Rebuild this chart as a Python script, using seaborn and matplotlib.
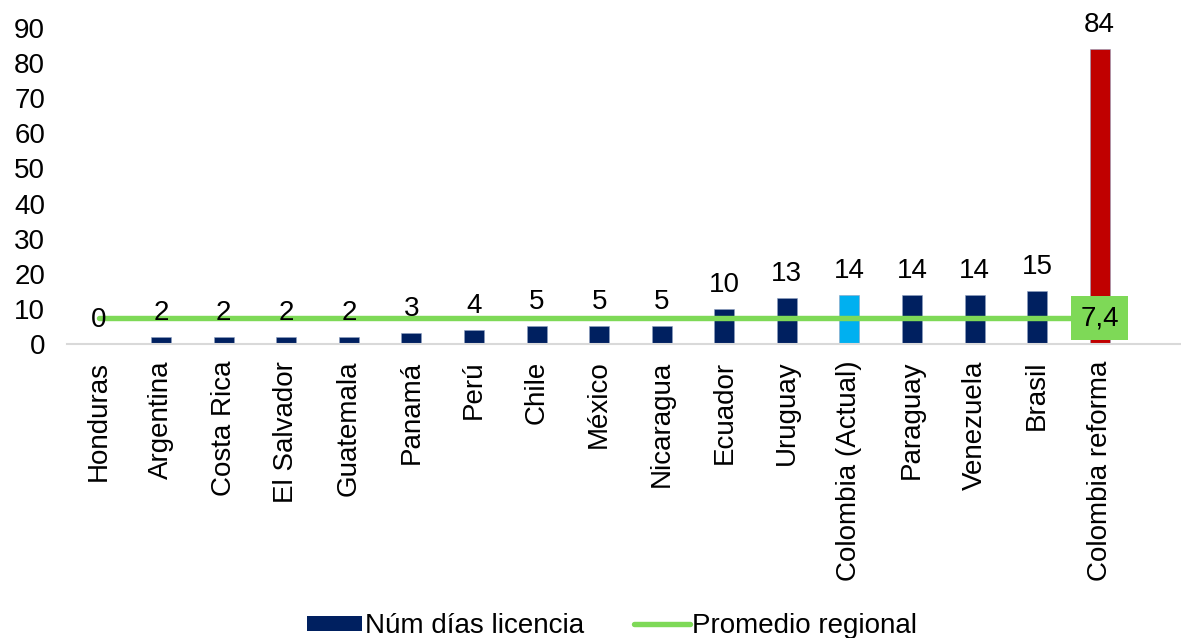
import matplotlib
matplotlib.use("Agg")
import matplotlib.pyplot as plt
from matplotlib.patches import Patch
from matplotlib.lines import Line2D
import seaborn as sns
import pandas as pd

# Days of paternity leave by country
paises = ["Honduras", "Argentina", "Costa Rica", "El Salvador", "Guatemala",
          "Panamá", "Perú", "Chile", "México", "Nicaragua", "Ecuador",
          "Uruguay", "Colombia (Actual)", "Paraguay", "Venezuela", "Brasil",
          "Colombia reforma"]
dias = [0, 2, 2, 2, 2, 3, 4, 5, 5, 5, 10, 13, 14, 14, 14, 15, 84]
promedio = 7.4
promedio_txt = "7,4"
yticks = [0, 10, 20, 30, 40, 50, 60, 70, 80, 90]

NAVY = "#002060"
CYAN = "#00B0F0"
RED = "#C00000"
GREEN = "#7ED957"
colores = [NAVY] * len(paises)
colores[paises.index("Colombia (Actual)")] = CYAN
colores[paises.index("Colombia reforma")] = RED

sns.set_theme(style="white")
plt.rcParams["font.family"] = ["Liberation Sans", "DejaVu Sans"]
plt.rcParams["text.color"] = "black"

FS = 20

df = pd.DataFrame({"pais": paises, "dias": dias})

fig = plt.figure(figsize=(11.81, 6.38), dpi=100)
W, H = 1181, 638
ax = fig.add_axes([67.3 / W, (H - 344) / H, (1181 - 67.3) / W, (344 - 28) / H])

sns.barplot(data=df, x="pais", y="dias", hue="pais", palette=colores,
            width=0.32, legend=False, ax=ax, saturation=1,
            edgecolor="#8EA0C0", linewidth=0.4)

# Regional average line
ax.plot([0, len(paises) - 1], [promedio, promedio], color=GREEN, lw=3.9,
        solid_capstyle="round", zorder=3)

# Value labels
for i, v in enumerate(dias):
    ax.annotate(str(v), (i, v), xytext=(0, 8), textcoords="offset points",
                ha="center", va="bottom", fontsize=FS, color="black", zorder=5)

ax.text(len(paises) - 1, promedio, promedio_txt, ha="center", va="center",
        fontsize=FS, color="black", zorder=6,
        bbox=dict(boxstyle="square,pad=0.32", facecolor=GREEN, edgecolor="none"))

ax.set_xlim(-0.5, 17.3)
ax.set_ylim(0, 90)
ax.set_yticks(yticks)
ax.set_xlabel("")
ax.set_ylabel("")
ax.tick_params(axis="y", length=0, pad=16, labelsize=FS, colors="black")
ax.tick_params(axis="x", length=0, pad=12, labelsize=FS, colors="black",
               labelrotation=90)
for lab in ax.get_xticklabels():
    lab.set_va("top")

for s in ["top", "right", "left"]:
    ax.spines[s].set_visible(False)
ax.spines["bottom"].set_color("#D9D9D9")
ax.spines["bottom"].set_linewidth(1.5)

handles = [Patch(facecolor=NAVY, edgecolor="none", label="Núm días licencia"),
           Line2D([0], [0], color=GREEN, lw=3.9, label="Promedio regional")]
fig.legend(handles=handles, loc="center", bbox_to_anchor=(612 / W, (H - 626) / H),
           ncol=2, frameon=False, fontsize=FS, handlelength=2.0,
           handleheight=0.45, handletextpad=0.1, columnspacing=1.8,
           borderpad=0, labelcolor="black")

fig.savefig("out.png", dpi=100)
